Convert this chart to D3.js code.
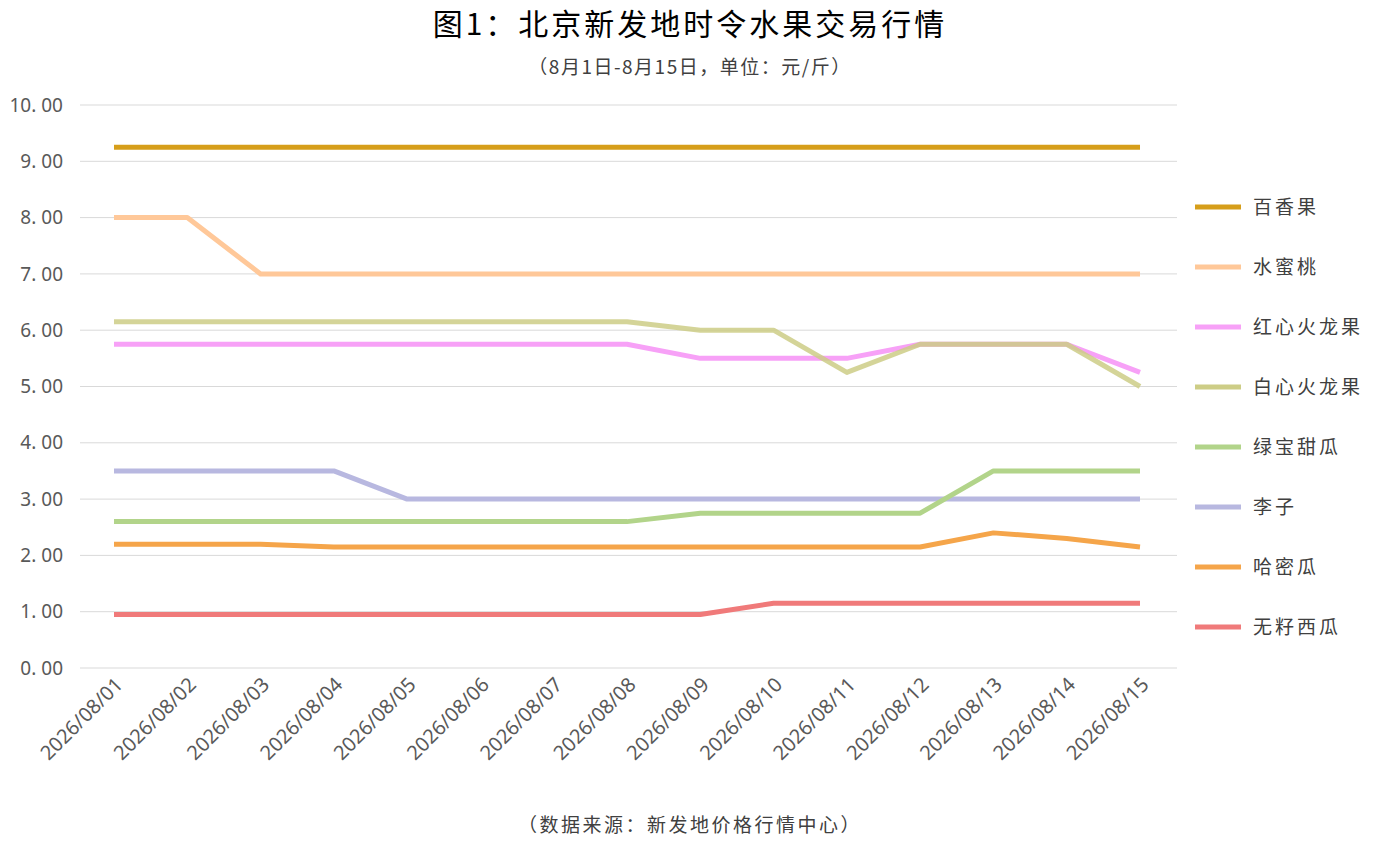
<!DOCTYPE html><html><head><meta charset="utf-8"><script src="https://cdn.jsdelivr.net/npm/d3@7"></script>
<style>body{margin:0;background:#fff}text{font-family:"Noto Sans CJK SC",sans-serif}</style></head><body><svg id="c" width="1381" height="844"></svg><script>
const dates=["2026/08/01","2026/08/02","2026/08/03","2026/08/04","2026/08/05","2026/08/06","2026/08/07","2026/08/08","2026/08/09","2026/08/10","2026/08/11","2026/08/12","2026/08/13","2026/08/14","2026/08/15"];
const names=["百香果","水蜜桃","红心火龙果","白心火龙果","绿宝甜瓜","李子","哈密瓜","无籽西瓜"];
const colors=["#D69E1A","#FFC899","#F7A1F7","#CDCD86","#B2D48A","#B8B8E0","#F5A54A","#F07A7A"];
const v0=[9.25,9.25,9.25,9.25,9.25,9.25,9.25,9.25,9.25,9.25,9.25,9.25,9.25,9.25,9.25];
const v1=[8,8,7,7,7,7,7,7,7,7,7,7,7,7,7];
const v2=[5.75,5.75,5.75,5.75,5.75,5.75,5.75,5.75,5.5,5.5,5.5,5.75,5.75,5.75,5.25];
const v3=[6.15,6.15,6.15,6.15,6.15,6.15,6.15,6.15,6.0,6.0,5.25,5.75,5.75,5.75,5.0];
const v4=[2.6,2.6,2.6,2.6,2.6,2.6,2.6,2.6,2.75,2.75,2.75,2.75,3.5,3.5,3.5];
const v5=[3.5,3.5,3.5,3.5,3,3,3,3,3,3,3,3,3,3,3];
const v6=[2.2,2.2,2.2,2.15,2.15,2.15,2.15,2.15,2.15,2.15,2.15,2.15,2.4,2.3,2.15];
const v7=[0.95,0.95,0.95,0.95,0.95,0.95,0.95,0.95,0.95,1.15,1.15,1.15,1.15,1.15,1.15];
const series=[v0,v1,v2,v3,v4,v5,v6,v7];
const yTicks=[0,1,2,3,4,5,6,7,8,9,10];
const svg=d3.select("#c");
const x=d3.scalePoint().domain(dates).range([114,1140]);
const y=d3.scaleLinear().domain([0,10]).range([668,105]);
const g=svg.append("g");
yTicks.forEach(t=>{g.append("line").attr("x1",80).attr("x2",1177).attr("y1",y(t)).attr("y2",y(t)).attr("stroke","#d9d9d9").attr("stroke-width",1);
g.append("text").attr("x",63).attr("y",y(t)).attr("dy","0.35em").attr("text-anchor","end").attr("font-size",19).attr("fill","#595959").style("font-family","Noto Sans").text(t.toFixed(2).replace(".",". "));});
dates.forEach(d=>{g.append("text").attr("transform",`translate(${x(d)+10},${686}) rotate(-45)`).attr("text-anchor","end").attr("font-size",20).attr("fill","#595959").style("font-family","Noto Sans").text(d);});
const line=d3.line().x((d,i)=>x(dates[i])).y(d=>y(d));
const order=[7,6,5,4,2,3,1,0];
order.forEach(k=>{svg.append("path").attr("d",line(series[k])).attr("fill","none").attr("stroke",colors[k]).attr("stroke-width",5).attr("stroke-opacity",k==3?0.85:1).attr("stroke-linejoin","round");});
names.forEach((n,i)=>{const ly=207+i*60;svg.append("line").attr("x1",1195).attr("x2",1241).attr("y1",ly).attr("y2",ly).attr("stroke",colors[i]).attr("stroke-width",5);
svg.append("text").attr("x",1253).attr("y",ly).attr("dy","0.35em").attr("font-size",19).attr("fill","#404040").attr("letter-spacing",3).text(n);});
svg.append("text").attr("x",690).attr("y",24).attr("dy","0.35em").attr("text-anchor","middle").attr("font-size",30).attr("letter-spacing",3).attr("fill","#000").text("图1：北京新发地时令水果交易行情");
svg.append("text").attr("x",690).attr("y",67).attr("dy","0.35em").attr("text-anchor","middle").attr("font-size",19).attr("letter-spacing",1.5).attr("fill","#404040").text("（8月1日-8月15日，单位：元/斤）");
svg.append("text").attr("x",690).attr("y",825).attr("dy","0.35em").attr("text-anchor","middle").attr("font-size",19).attr("letter-spacing",2.5).attr("fill","#404040").text("（数据来源：新发地价格行情中心）");
</script></body></html>
